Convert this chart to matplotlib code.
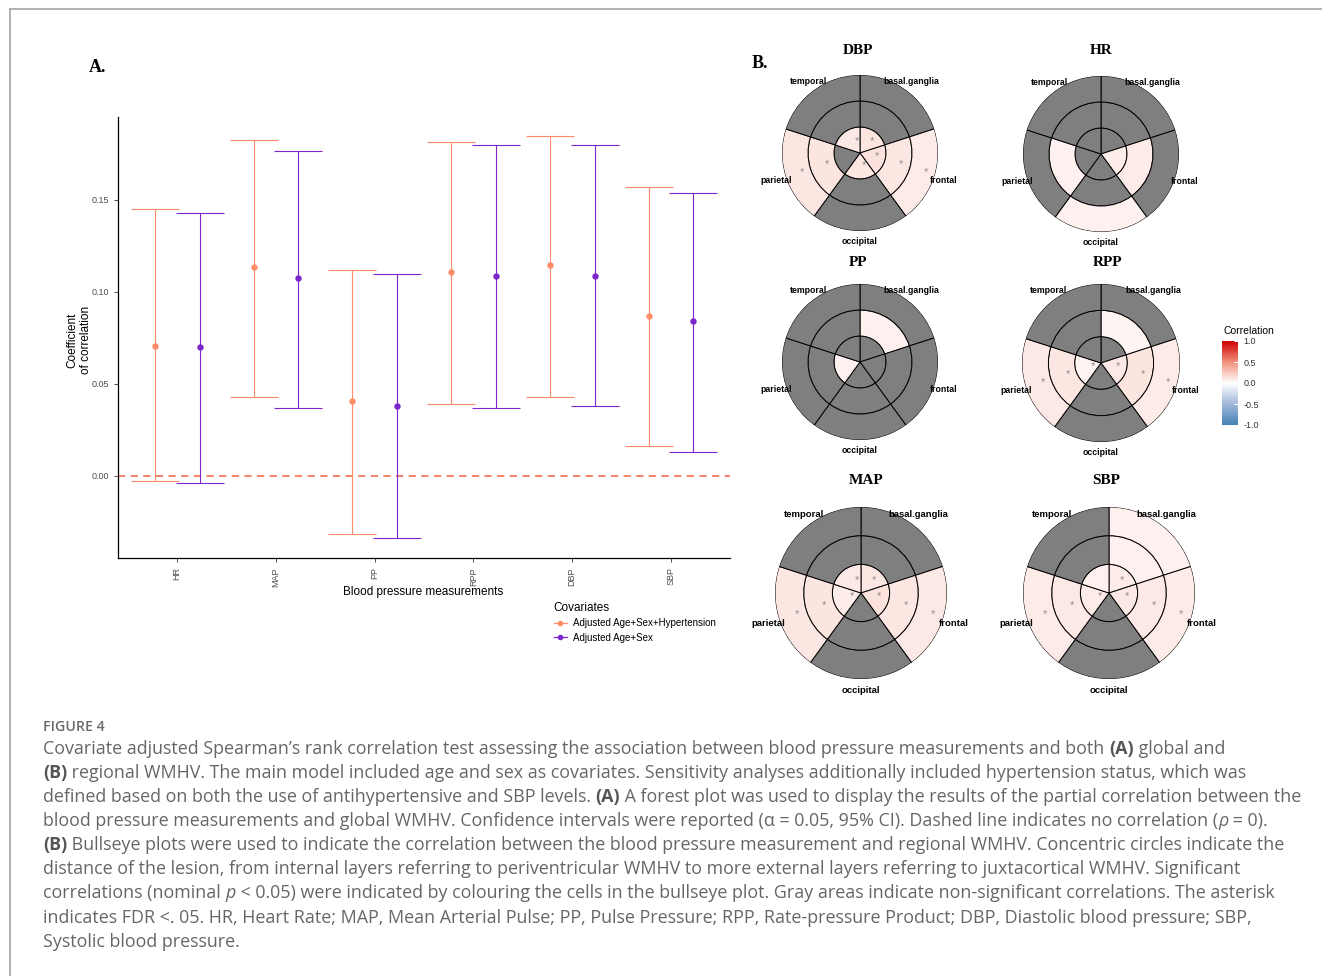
import numpy as np
import matplotlib
matplotlib.use("Agg")
import matplotlib.pyplot as plt
import matplotlib as mpl
from matplotlib.colors import LinearSegmentedColormap, Normalize
from matplotlib.lines import Line2D

# --- Panel A data: partial correlation with global WMHV ---
measures = ["HR", "MAP", "PP", "RPP", "DBP", "SBP"]
est_hyp = [0.0708, 0.1138, 0.0409, 0.1109, 0.1149, 0.0870]
lo_hyp = [-0.0027, 0.0431, -0.0317, 0.0391, 0.0431, 0.0161]
hi_hyp = [0.1449, 0.1828, 0.1120, 0.1817, 0.1850, 0.1569]
est_as = [0.0699, 0.1078, 0.0380, 0.1089, 0.1089, 0.0841]
lo_as = [-0.0040, 0.0371, -0.0337, 0.0371, 0.0382, 0.0132]
hi_as = [0.1428, 0.1768, 0.1100, 0.1799, 0.1799, 0.1540]
cov_labels = ["Adjusted Age+Sex+Hypertension", "Adjusted Age+Sex"]

# --- Panel B data: regional correlations (rows = inner, middle, outer ring) ---
regions = ["basal.ganglia", "frontal", "occipital", "parietal", "temporal"]
nan = np.nan
corr_dbp = [[0.12, 0.13, 0.11, nan, 0.10], [nan, 0.11, nan, 0.12, nan], [nan, 0.09, nan, 0.11, nan]]
fdr_dbp = [[1, 1, 1, 0, 1], [0, 1, 0, 1, 0], [0, 1, 0, 1, 0]]
corr_hr = [[nan, 0.08, nan, nan, nan], [nan, 0.09, nan, 0.07, nan], [nan, nan, 0.07, nan, nan]]
fdr_hr = [[0] * 5, [0] * 5, [0] * 5]
corr_pp = [[nan, nan, nan, 0.07, nan], [0.07, nan, nan, nan, nan], [nan, nan, nan, nan, nan]]
fdr_pp = [[0] * 5, [0] * 5, [0] * 5]
corr_rpp = [[nan, 0.10, nan, 0.05, nan], [0.05, 0.12, nan, 0.11, nan], [nan, 0.09, nan, 0.10, nan]]
fdr_rpp = [[0, 1, 0, 1, 0], [0, 1, 0, 1, 0], [0, 1, 0, 1, 0]]
corr_map = [[0.11, 0.13, nan, 0.08, 0.10], [nan, 0.11, nan, 0.12, nan], [nan, 0.10, nan, 0.11, nan]]
fdr_map = [[1, 1, 0, 1, 1], [0, 1, 0, 1, 0], [0, 1, 0, 1, 0]]
corr_sbp = [[0.09, 0.10, nan, 0.09, 0.07], [0.07, 0.10, nan, 0.10, nan], [0.07, 0.09, nan, 0.09, nan]]
fdr_sbp = [[1, 1, 0, 1, 0], [0, 1, 0, 1, 0], [0, 1, 0, 1, 0]]

W, H = 1322, 976
fig = plt.figure(figsize=(W / 100, H / 100), dpi=100)
plt.rcParams["font.family"] = ["Liberation Sans", "DejaVu Sans"]


def fx(x):
    return x / W


def fy(y):
    return 1 - y / H


ORANGE = "#FF8C69"
PURPLE = "#7D26CD"
GREY = "#7F7F7F"

# frame around the figure
fig.add_artist(Line2D([fx(10), 1], [fy(9), fy(9)], color="#AAAAAA", lw=1.3))
fig.add_artist(Line2D([fx(10), fx(10)], [0, fy(9)], color="#AAAAAA", lw=1.3))

# --- Panel A: forest plot ---
axA = fig.add_axes([fx(118), fy(558), (730 - 118) / W, (558 - 117) / H])
xpos = np.arange(1, len(measures) + 1)
for est, lo, hi, col, dx in [(est_hyp, lo_hyp, hi_hyp, ORANGE, -0.225),
                             (est_as, lo_as, hi_as, PURPLE, 0.228)]:
    est, lo, hi = np.array(est), np.array(lo), np.array(hi)
    axA.errorbar(xpos + dx, est, yerr=[est - lo, hi - est], fmt="o", color=col,
                 ms=3.6, elinewidth=0.8, capsize=17.6, capthick=0.8, zorder=3)
axA.axhline(0, color="#F47A5C", lw=1.3, ls=(0, (4, 3)), zorder=2)
axA.set_xlim(0.4, 6.6)
axA.set_ylim(-0.0446, 0.1951)
axA.set_yticks([0.0, 0.05, 0.10, 0.15])
axA.set_yticklabels(["0.00", "0.05", "0.10", "0.15"])
axA.set_xticks(xpos)
axA.set_xticklabels(measures, rotation=90)
axA.tick_params(labelsize=6.5, labelcolor="#4D4D4D", color="#333333", length=3, width=0.6)
for s in ["top", "right"]:
    axA.spines[s].set_visible(False)
for s in ["left", "bottom"]:
    axA.spines[s].set_linewidth(0.9)
fig.text(fx(79), fy(340), "Coefficient\nof correlation", rotation=90, ha="center",
         va="center", fontsize=8.5, multialignment="center")
fig.text(fx(423), fy(592), "Blood pressure measurements", ha="center", va="center", fontsize=8.5)

handles = [Line2D([], [], color=ORANGE, marker="o", ms=3, lw=0.9),
           Line2D([], [], color=PURPLE, marker="o", ms=3, lw=0.9)]
leg = axA.legend(handles, cov_labels, title="Covariates", loc="upper left",
                 bbox_to_anchor=(fx(549), fy(597)), bbox_transform=fig.transFigure,
                 frameon=False, fontsize=7, title_fontsize=8.5, handlelength=1.3,
                 handletextpad=0.7, labelspacing=0.45, borderpad=0, alignment="left")

fig.text(fx(98), fy(67), "A.", fontsize=13, fontweight="bold", family="Liberation Serif",
         ha="center", va="center")
fig.text(fx(760), fy(63), "B.", fontsize=13, fontweight="bold", family="Liberation Serif",
         ha="center", va="center")

# --- Panel B: bullseye plots ---
cmap = LinearSegmentedColormap.from_list(
    "corr", ["#4682B4", "#A2B9D9", "#FFFFFF", "#F2907C", "#CD0000"])
norm = Normalize(-1, 1)


def bullseye(title, corr, fdr, cx, cy, R, tx, ty, fs_lab):
    ax = fig.add_axes([fx(cx - R), fy(cy + R), 2 * R / W, 2 * R / H], projection="polar")
    ax.set_theta_zero_location("N")
    ax.set_theta_direction(-1)
    theta = np.deg2rad(np.arange(len(regions)) * 72 + 36)
    for ring in range(3):
        vals = corr[ring]
        cols = [GREY if np.isnan(v) else cmap(norm(v)) for v in vals]
        ax.bar(theta, 1 / 3, width=np.deg2rad(72), bottom=ring / 3, color=cols,
               edgecolor="black", linewidth=0.7, align="center")
        for t, f in zip(theta, fdr[ring]):
            if f:
                ax.annotate("*", (t, ring / 3 + 1 / 6), xytext=(3, 1),
                            textcoords="offset points", ha="center", va="center",
                            fontsize=8, color="#8A8A8A")
    ax.set_ylim(0, 1)
    ax.set_axis_off()
    for t, name in zip(theta, regions):
        ax.text(t, 1.13, name, ha="center", va="center", fontweight="bold",
                fontsize=fs_lab, clip_on=False)
    fig.text(fx(tx), fy(ty), title, ha="center", va="center", fontsize=11,
             fontweight="bold", family="Liberation Serif")


bullseye("DBP", corr_dbp, fdr_dbp, 860, 153, 78, 858, 51, 6.3)
bullseye("HR", corr_hr, fdr_hr, 1101, 154, 78, 1101, 51, 6.3)
bullseye("PP", corr_pp, fdr_pp, 860, 362, 78, 858, 262, 6.3)
bullseye("RPP", corr_rpp, fdr_rpp, 1101, 363, 79, 1108, 262, 6.3)
bullseye("MAP", corr_map, fdr_map, 861, 593, 86, 866, 480, 6.8)
bullseye("SBP", corr_sbp, fdr_sbp, 1109, 593, 86, 1106, 480, 6.8)

cax = fig.add_axes([fx(1222), fy(425), 16 / W, 84 / H])
cb = mpl.colorbar.ColorbarBase(cax, cmap=cmap, norm=norm, ticks=[-1, -0.5, 0, 0.5, 1])
cb.set_ticklabels(["-1.0", "-0.5", "0.0", "0.5", "1.0"])
cb.outline.set_visible(False)
cax.tick_params(length=3, color="white", direction="in", labelsize=6.5,
                labelcolor="#333333", pad=4)
fig.text(fx(1223), fy(331), "Correlation", ha="left", va="center", fontsize=7.5)

# --- Caption ---
CAP_FONT = ["Open Sans", "DejaVu Sans"]
CAP_COL = "#666666"
renderer = fig.canvas.get_renderer()


def text_w(s, **kw):
    t = fig.text(0, 0, s, **kw)
    w = t.get_window_extent(renderer).width
    t.remove()
    return w


caption = [
    [("Covariate adjusted Spearman\u2019s rank correlation test assessing the association between blood pressure measurements and both ", ""), ("(A)", "b"), (" global and", "")],
    [("(B)", "b"), (" regional WMHV. The main model included age and sex as covariates. Sensitivity analyses additionally included hypertension status, which was", "")],
    [("defined based on both the use of antihypertensive and SBP levels. ", ""), ("(A)", "b"), (" A forest plot was used to display the results of the partial correlation between the", "")],
    [("blood pressure measurements and global WMHV. Confidence intervals were reported (\u03b1 = 0.05, 95% CI). Dashed line indicates no correlation (", ""), ("\u03c1", "i"), (" = 0).", "")],
    [("(B)", "b"), (" Bullseye plots were used to indicate the correlation between the blood pressure measurement and regional WMHV. Concentric circles indicate the", "")],
    [("distance of the lesion, from internal layers referring to periventricular WMHV to more external layers referring to juxtacortical WMHV. Significant", "")],
    [("correlations (nominal ", ""), ("p", "i"), (" < 0.05) were indicated by colouring the cells in the bullseye plot. Gray areas indicate non-significant correlations. The asterisk", "")],
    [("indicates FDR <. 05. HR, Heart Rate; MAP, Mean Arterial Pulse; PP, Pulse Pressure; RPP, Rate-pressure Product; DBP, Diastolic blood pressure; SBP,", "")],
    [("Systolic blood pressure.", "")],
]
line_y = [749, 773, 797, 821, 845, 869, 893, 918, 942]

# size the caption font so the first line spans the same width as the original
first = "".join(s for s, _ in caption[0])
CAP_FS = 12.0 * 1176 / text_w(first, fontsize=12.0, family=CAP_FONT)


def rich(x, y, segs):
    for s, style in segs:
        kw = dict(fontsize=CAP_FS, color=CAP_COL, family=CAP_FONT)
        if style == "b":
            kw["fontweight"] = "bold"
            kw["color"] = "#555555"
        if style == "i":
            kw["fontstyle"] = "italic"
        fig.text(fx(x), fy(y), s, ha="left", va="baseline", **kw)
        x += text_w("|" + s + "|", **kw) - text_w("||", **kw)


fig.text(fx(43), fy(731), "FIGURE 4", ha="left", va="baseline", fontsize=10.2,
         color="#6A6A6A", family=CAP_FONT, fontweight="semibold")

for segs, y in zip(caption, line_y):
    rich(43, y + 5, segs)

fig.savefig("out.png", dpi=100)
